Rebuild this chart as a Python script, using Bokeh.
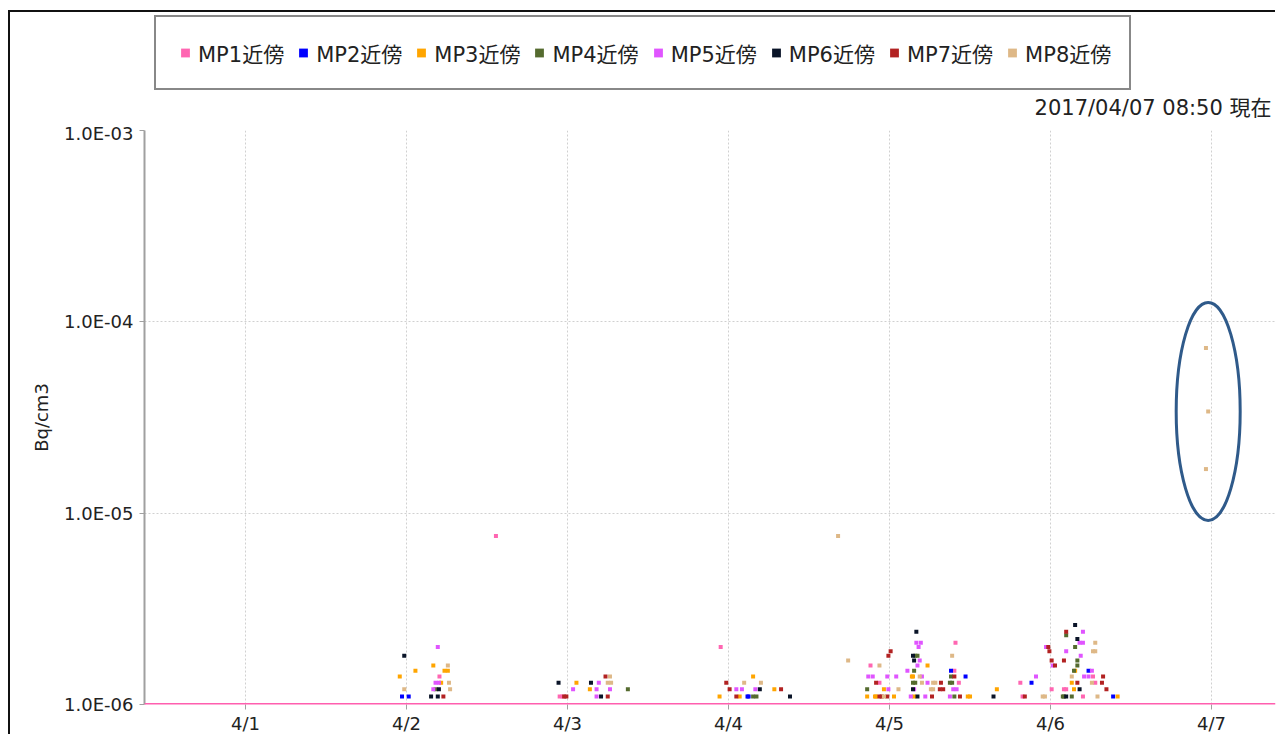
import pandas as pd
from bokeh.plotting import figure
from bokeh.layouts import column
from bokeh.models import (Range1d, DatetimeTickFormatter, DaysTicker, FixedTicker,
                          CustomJSTickFormatter, Legend, LegendItem, Label, Span,
                          ColumnDataSource)
from bokeh.embed import file_html
from bokeh.resources import INLINE

YEAR = "2017"
NAMES = ["MP1近傍", "MP2近傍", "MP3近傍", "MP4近傍", "MP5近傍", "MP6近傍", "MP7近傍", "MP8近傍"]
COLORS = ["#FF66B2", "#0000FF", "#FFA500", "#556B2F", "#E055FF", "#0A1428", "#B22222", "#DEB887"]

MP1_T = ["04/02 04:55", "04/02 13:20", "04/02 22:50", "04/02 23:15", "04/03 22:50", "04/04 21:10",
         "04/04 22:30", "04/05 09:40", "04/05 09:50", "04/05 10:20", "04/05 19:30", "04/05 19:50",
         "04/06 00:10", "04/06 02:00", "04/06 02:20", "04/06 04:50", "04/06 06:20", "04/06 06:40"]
MP1_V = [1.4e-6, 7.6e-6, 1.1e-6, 1.1e-6, 2.0e-6, 1.6e-6,
         1.3e-6, 1.5e-6, 2.1e-6, 1.3e-6, 1.3e-6, 1.1e-6,
         1.2e-6, 1.2e-6, 1.2e-6, 1.1e-6, 1.4e-6, 1.3e-6]

MP2_T = ["04/01 23:20", "04/02 00:20", "04/04 02:50", "04/04 03:00", "04/05 09:10", "04/05 11:20",
         "04/05 21:10", "04/06 05:40", "04/06 09:20"]
MP2_V = [1.1e-6, 1.1e-6, 1.1e-6, 1.1e-6, 1.5e-6, 1.4e-6,
         1.3e-6, 1.5e-6, 1.1e-6]

MP3_T = ["04/01 23:00", "04/02 01:20", "04/02 04:00", "04/02 05:10", "04/02 05:40", "04/02 06:10",
         "04/03 01:20", "04/03 03:20", "04/03 22:40", "04/04 01:40", "04/04 03:40", "04/04 06:50",
         "04/04 20:40", "04/04 21:50", "04/04 22:00", "04/04 23:10", "04/05 00:40", "04/05 03:20",
         "04/05 03:30", "04/05 03:40", "04/05 05:40", "04/05 11:40", "04/05 12:00", "04/05 16:00",
         "04/06 03:10", "04/06 03:30", "04/06 03:40", "04/06 10:00"]
MP3_V = [1.4e-6, 1.5e-6, 1.6e-6, 1.3e-6, 1.5e-6, 1.5e-6,
         1.3e-6, 1.2e-6, 1.1e-6, 1.1e-6, 1.4e-6, 1.2e-6,
         1.1e-6, 1.1e-6, 1.1e-6, 1.2e-6, 1.1e-6, 1.4e-6,
         1.4e-6, 1.1e-6, 1.6e-6, 1.1e-6, 1.1e-6, 1.2e-6,
         1.3e-6, 1.2e-6, 1.5e-6, 1.1e-6]

MP4_T = ["04/02 04:20", "04/03 09:00", "04/04 03:40", "04/04 04:10", "04/04 20:40", "04/05 03:30",
         "04/05 03:40", "04/05 03:50", "04/05 03:50", "04/05 04:10", "04/05 09:00", "04/05 09:10",
         "04/05 09:20", "04/05 09:40", "04/06 01:50", "04/06 02:00", "04/06 02:20", "04/06 03:10",
         "04/06 03:30", "04/06 03:40", "04/06 04:00", "04/06 04:00"]
MP4_V = [1.2e-6, 1.2e-6, 1.1e-6, 1.1e-6, 1.2e-6, 1.3e-6,
         1.5e-6, 1.8e-6, 1.3e-6, 1.8e-6, 1.3e-6, 1.4e-6,
         1.3e-6, 1.1e-6, 1.1e-6, 1.1e-6, 2.3e-6, 1.1e-6,
         1.5e-6, 2.0e-6, 1.7e-6, 1.6e-6]

MP5_T = ["04/02 04:00", "04/02 04:20", "04/02 04:40", "04/02 04:50", "04/03 00:50", "04/03 04:20",
         "04/03 04:20", "04/03 04:40", "04/03 06:20", "04/04 01:10", "04/04 02:00", "04/04 04:00",
         "04/04 20:50", "04/04 21:30", "04/04 23:40", "04/04 23:50", "04/05 01:00", "04/05 02:40",
         "04/05 03:10", "04/05 03:40", "04/05 04:00", "04/05 04:10", "04/05 04:20", "04/05 04:40",
         "04/05 04:30", "04/05 04:50", "04/05 05:20", "04/05 05:40", "04/05 09:00", "04/05 09:30",
         "04/05 10:00", "04/05 21:50", "04/05 23:20", "04/06 00:20", "04/06 02:20", "04/06 04:20",
         "04/06 04:30", "04/06 04:50", "04/06 04:50", "04/06 05:00", "04/06 05:40", "04/06 06:10"]
MP5_V = [1.2e-6, 1.3e-6, 2.0e-6, 1.3e-6, 1.2e-6, 1.2e-6,
         1.1e-6, 1.3e-6, 1.2e-6, 1.2e-6, 1.2e-6, 1.2e-6,
         1.4e-6, 1.4e-6, 1.4e-6, 1.2e-6, 1.4e-6, 1.5e-6,
         1.1e-6, 1.2e-6, 2.1e-6, 1.6e-6, 2.0e-6, 2.1e-6,
         1.7e-6, 1.4e-6, 1.1e-6, 1.3e-6, 1.1e-6, 1.2e-6,
         1.2e-6, 1.4e-6, 2.0e-6, 1.6e-6, 1.9e-6, 2.1e-6,
         1.8e-6, 2.1e-6, 2.4e-6, 1.4e-6, 1.4e-6, 1.5e-6]

MP6_T = ["04/01 23:40", "04/02 03:40", "04/02 04:40", "04/02 04:50", "04/02 22:40", "04/03 03:30",
         "04/03 05:00", "04/04 04:40", "04/04 09:10", "04/05 03:30", "04/05 03:30", "04/05 03:40",
         "04/05 04:00", "04/05 04:10", "04/05 15:30", "04/06 02:20", "04/06 03:40", "04/06 04:00",
         "04/06 04:20"]
MP6_V = [1.8e-6, 1.1e-6, 1.1e-6, 1.2e-6, 1.3e-6, 1.3e-6,
         1.1e-6, 1.2e-6, 1.1e-6, 1.2e-6, 1.8e-6, 1.7e-6,
         2.4e-6, 1.1e-6, 1.1e-6, 1.1e-6, 2.6e-6, 2.2e-6,
         1.2e-6]

MP7_T = ["04/02 05:30", "04/02 23:30", "04/02 23:50", "04/03 05:40", "04/03 06:00", "04/03 23:40",
         "04/04 00:10", "04/04 01:10", "04/04 07:50", "04/04 22:00", "04/04 22:30", "04/04 22:50",
         "04/04 23:40", "04/04 23:50", "04/05 00:10", "04/05 06:20", "04/05 07:30", "04/05 07:40",
         "04/05 08:00", "04/05 09:40", "04/05 10:30", "04/05 20:10", "04/05 23:40", "04/05 23:50",
         "04/06 00:10", "04/06 00:40", "04/06 02:00", "04/06 02:20", "04/06 04:00", "04/06 07:40",
         "04/06 07:50", "04/06 08:20"]
MP7_V = [1.1e-6, 1.1e-6, 1.1e-6, 1.4e-6, 1.1e-6, 1.3e-6,
         1.2e-6, 1.1e-6, 1.2e-6, 1.3e-6, 1.1e-6, 1.1e-6,
         1.1e-6, 1.8e-6, 1.9e-6, 1.1e-6, 1.2e-6, 1.3e-6,
         1.2e-6, 1.4e-6, 1.1e-6, 1.1e-6, 2.0e-6, 1.9e-6,
         1.7e-6, 1.6e-6, 1.7e-6, 2.4e-6, 1.3e-6, 1.3e-6,
         1.4e-6, 1.2e-6]

MP8_T = ["04/01 23:40", "04/02 06:10", "04/02 06:20", "04/02 06:30", "04/03 06:00", "04/03 06:20",
         "04/03 06:30", "04/04 02:20", "04/04 04:50", "04/04 16:20", "04/04 17:50", "04/04 22:30",
         "04/04 23:10", "04/05 01:20", "04/05 04:30", "04/05 04:50", "04/05 06:10", "04/05 06:30",
         "04/05 06:30", "04/05 06:50", "04/05 09:20", "04/05 22:50", "04/05 23:10", "04/06 03:10",
         "04/06 06:10", "04/06 06:20", "04/06 06:40", "04/06 06:40", "04/06 07:00", "04/06 23:10",
         "04/06 23:30", "04/06 23:10"]
MP8_V = [1.2e-6, 1.6e-6, 1.3e-6, 1.2e-6, 1.3e-6, 1.4e-6,
         1.3e-6, 1.3e-6, 1.3e-6, 7.6e-6, 1.7e-6, 1.6e-6,
         1.1e-6, 1.2e-6, 1.4e-6, 1.3e-6, 1.2e-6, 1.2e-6,
         1.3e-6, 1.3e-6, 1.8e-6, 1.1e-6, 1.1e-6, 1.4e-6,
         1.3e-6, 1.9e-6, 1.9e-6, 2.1e-6, 1.1e-6, 7.3e-5,
         3.4e-5, 1.7e-5]

SERIES_T = [MP1_T, MP2_T, MP3_T, MP4_T, MP5_T, MP6_T, MP7_T, MP8_T]
SERIES_V = [MP1_V, MP2_V, MP3_V, MP4_V, MP5_V, MP6_V, MP7_V, MP8_V]

X_START = "2017-03-31 08:57"
X_END = "2017-04-07 09:32"
Y_MIN, Y_MAX = 1e-6, 1e-3
Y_TICKS = [1e-6, 1e-5, 1e-4, 1e-3]
LIMIT_LINE = 1e-6
STAMP = "2017/04/07 08:50 現在"
Y_LABEL = "Bq/cm3"
ANNOT_T = "2017-04-06 23:30"
ANNOT_V = 3.4e-5

FONT = "DejaVu Sans, Noto Sans CJK JP"
W = 1267          # width of both stacked figures
TOP_H = 110       # header strip holding the legend box and the date stamp
MAIN_H = 614
FRAME_W = 1131    # frame width shared by both figures (frames are aligned by the column)


def to_dt(lst):
    return pd.to_datetime([YEAR + "/" + s for s in lst], format="%Y/%m/%d %H:%M")


# ---------------- header strip: legend + date stamp ----------------
top = figure(width=W, height=TOP_H, x_range=Range1d(0, FRAME_W), y_range=Range1d(0, TOP_H),
             output_backend="svg", toolbar_location=None,
             x_axis_location=None, y_axis_location=None,
             min_border_left=0, min_border_right=0, min_border_top=0, min_border_bottom=0,
             background_fill_color="white", border_fill_color="white",
             outline_line_color=None)
top.title = None
top.grid.visible = False

# ---------------- main chart ----------------
p = figure(width=W, height=MAIN_H,
           x_axis_type="datetime", y_axis_type="log",
           x_range=Range1d(pd.Timestamp(X_START), pd.Timestamp(X_END)),
           y_range=Range1d(Y_MIN, Y_MAX),
           output_backend="svg", toolbar_location=None,
           min_border_left=134, min_border_right=2, min_border_top=8, min_border_bottom=0,
           background_fill_color="white", border_fill_color="white",
           outline_line_color=None)
p.title = None

items = []
for name, col, ts, vs in zip(NAMES, COLORS, SERIES_T, SERIES_V):
    src = ColumnDataSource(dict(t=to_dt(ts), v=vs))
    p.scatter("t", "v", source=src, marker="square", size=4,
              fill_color=col, line_color=None)
    # legend swatch renderer in the header strip (one point outside its visible range)
    sw = top.scatter(x=[-500], y=[-500], marker="square", size=4, fill_color=col, line_color=None)
    items.append(LegendItem(label=name, renderers=[sw]))

p.add_layout(Span(location=LIMIT_LINE, dimension="width", line_color="#FF5FAF",
                  line_width=3, level="overlay"))

p.ellipse(x=[pd.Timestamp(ANNOT_T)], y=[ANNOT_V], width=64, height=218,
          width_units="screen", height_units="screen",
          fill_color=None, line_color="#2F5A8A", line_width=3)

p.yaxis.ticker = FixedTicker(ticks=Y_TICKS, minor_ticks=[])
p.yaxis.formatter = CustomJSTickFormatter(code="""
const e = Math.round(Math.log10(tick));
const m = tick / Math.pow(10, e);
return m.toFixed(1) + "E" + (e < 0 ? "-" : "") + String(Math.abs(e)).padStart(2, "0");
""")
p.xaxis.ticker = DaysTicker(days=list(range(1, 32)))
p.xaxis.formatter = DatetimeTickFormatter(days="%-m/%-d", months="%-m/%-d", hours="%-m/%-d")

for ax in (p.xaxis[0], p.yaxis[0]):
    ax.axis_line_color = "#A0A0A0"
    ax.axis_line_width = 2
    ax.major_tick_line_color = "#A0A0A0"
    ax.major_tick_in = 0
    ax.major_tick_out = 5
    ax.minor_tick_line_color = None
    ax.major_label_text_font = FONT
    ax.major_label_text_font_size = "18px"
    ax.major_label_text_color = "#222222"
p.xaxis.axis_line_color = None
p.yaxis.major_label_standoff = 6
p.xaxis.major_label_standoff = 3

p.yaxis.axis_label = Y_LABEL
p.yaxis.axis_label_text_font = FONT
p.yaxis.axis_label_text_font_size = "18px"
p.yaxis.axis_label_text_font_style = "normal"
p.yaxis.axis_label_text_color = "#222222"
p.yaxis.axis_label_standoff = 9

for g in (p.xgrid[0], p.ygrid[0]):
    g.grid_line_color = "#D0D0D0"
    g.grid_line_dash = "2 2"
    g.grid_line_width = 1

legend = Legend(items=items, orientation="horizontal", location=(10, 32),
                padding=18, margin=0, spacing=8,
                glyph_width=22, glyph_height=35, label_standoff=2,
                label_text_font=FONT, label_text_font_size="21px",
                label_text_color="#222222",
                border_line_color="#111111", border_line_width=2,
                background_fill_color="white", background_fill_alpha=1.0)
top.add_layout(legend, "center")

top.add_layout(Label(x=FRAME_W - 4, y=15, text=STAMP, text_align="right", text_baseline="alphabetic",
                     text_font=FONT, text_font_size="21px", text_color="#222222"))

layout = column(top, p, spacing=0, margin=(12, 0, 0, 10),
                styles={"box-shadow": "-2px -2px 0 0 #111111"})

open("out.html", "w").write(file_html(layout, INLINE))
